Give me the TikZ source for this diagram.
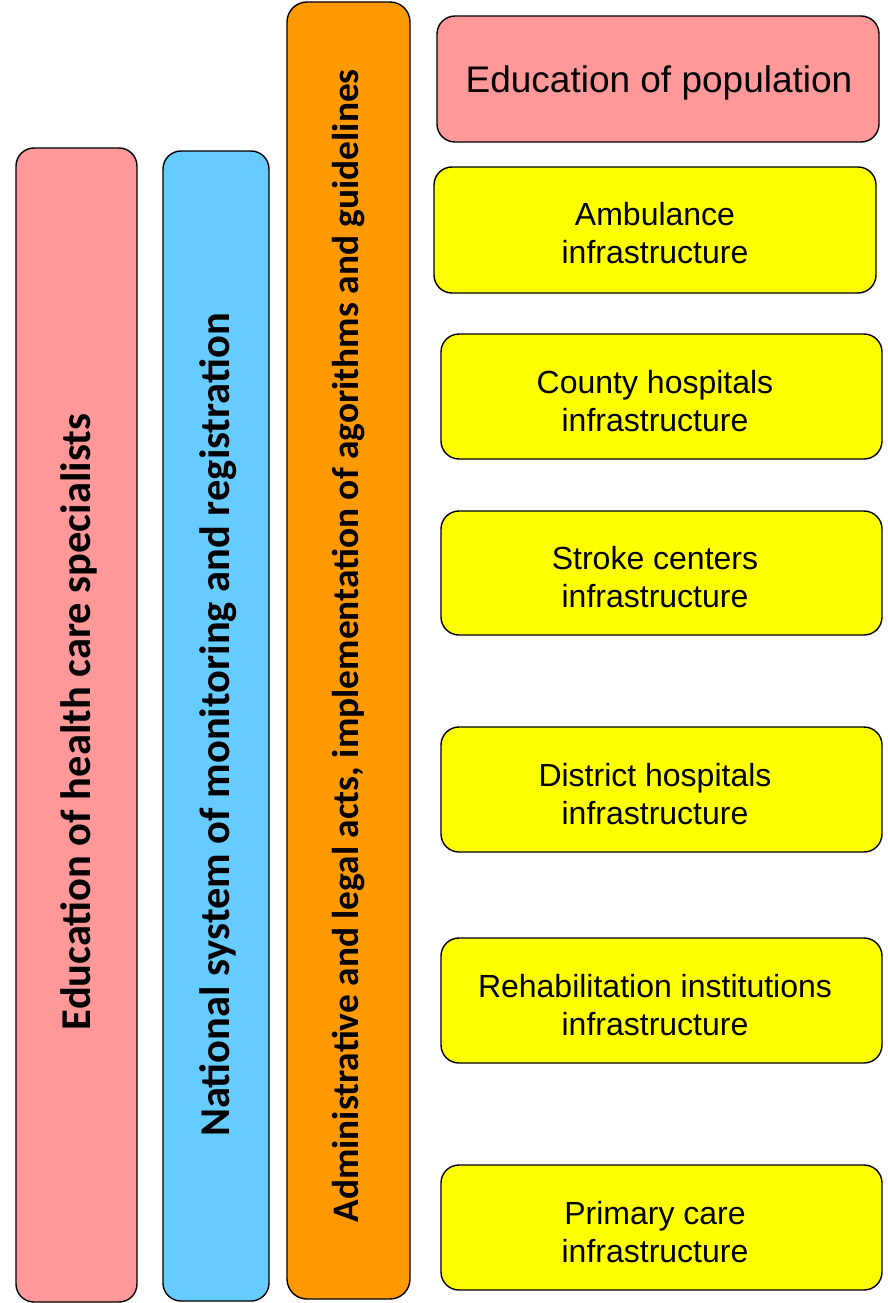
\documentclass[tikz,border=0pt]{standalone}
\usepackage{fontspec}
\setmainfont{Liberation Sans}
\newfontfamily\calib{Carlito}
\definecolor{pinkfill}{HTML}{FF9999}
\definecolor{bluefill}{HTML}{66CCFF}
\definecolor{orangefill}{HTML}{FF9900}
\definecolor{yellowfill}{HTML}{FFFF00}
\begin{document}
\begin{tikzpicture}[x=1pt,y=-1pt,
  box/.style={draw=black,line width=1.4pt,rounded corners=18pt},
  vtext/.style={rotate=90,font=\calib\bfseries\fontsize{42.5}{50}\selectfont,inner sep=0pt},
  rtext/.style={align=center,font=\fontsize{32}{38}\selectfont,inner sep=0pt}]
\useasboundingbox (0,0) rectangle (888,1303);
% left columns
\draw[box,fill=pinkfill] (16,148) rectangle (137,1302);
\draw[box,fill=bluefill] (163,151) rectangle (269,1301);
\draw[box,fill=orangefill,rounded corners=20pt] (287,2) rectangle (410,1299);
\node[vtext] (edspec) at (79,722) {Education of health care specialists};
\node[vtext] (natsys) at (218,725) {National system of monitoring and registration};
\node[vtext,font=\calib\bfseries\fontsize{37.4}{45}\selectfont] (admin) at (349,646) {Administrative and legal acts, implementation of agorithms and guidelines};
% right boxes
\draw[box,fill=pinkfill] (437,16) rectangle (879,142);
\node[inner sep=0pt,font=\fontsize{37}{44}\selectfont] (edpop) at (659,83) {Education of population};
\draw[box,fill=yellowfill] (434,167) rectangle (876,293);
\node[rtext] (amb) at (655,233) {Ambulance\\infrastructure};
\draw[box,fill=yellowfill] (441,334) rectangle (882,459);
\node[rtext] (county) at (655,401) {County hospitals\\infrastructure};
\draw[box,fill=yellowfill] (441,511) rectangle (882,635);
\node[rtext] (stroke) at (655,577) {Stroke centers\\infrastructure};
\draw[box,fill=yellowfill] (441,727) rectangle (882,852);
\node[rtext] (district) at (655,794) {District hospitals\\infrastructure};
\draw[box,fill=yellowfill] (441,938) rectangle (882,1063);
\node[rtext] (rehab) at (655,1005) {Rehabilitation institutions\\infrastructure};
\draw[box,fill=yellowfill] (441,1165) rectangle (882,1290);
\node[rtext] (primary) at (655,1232) {Primary care\\infrastructure};
\end{tikzpicture}
\end{document}
